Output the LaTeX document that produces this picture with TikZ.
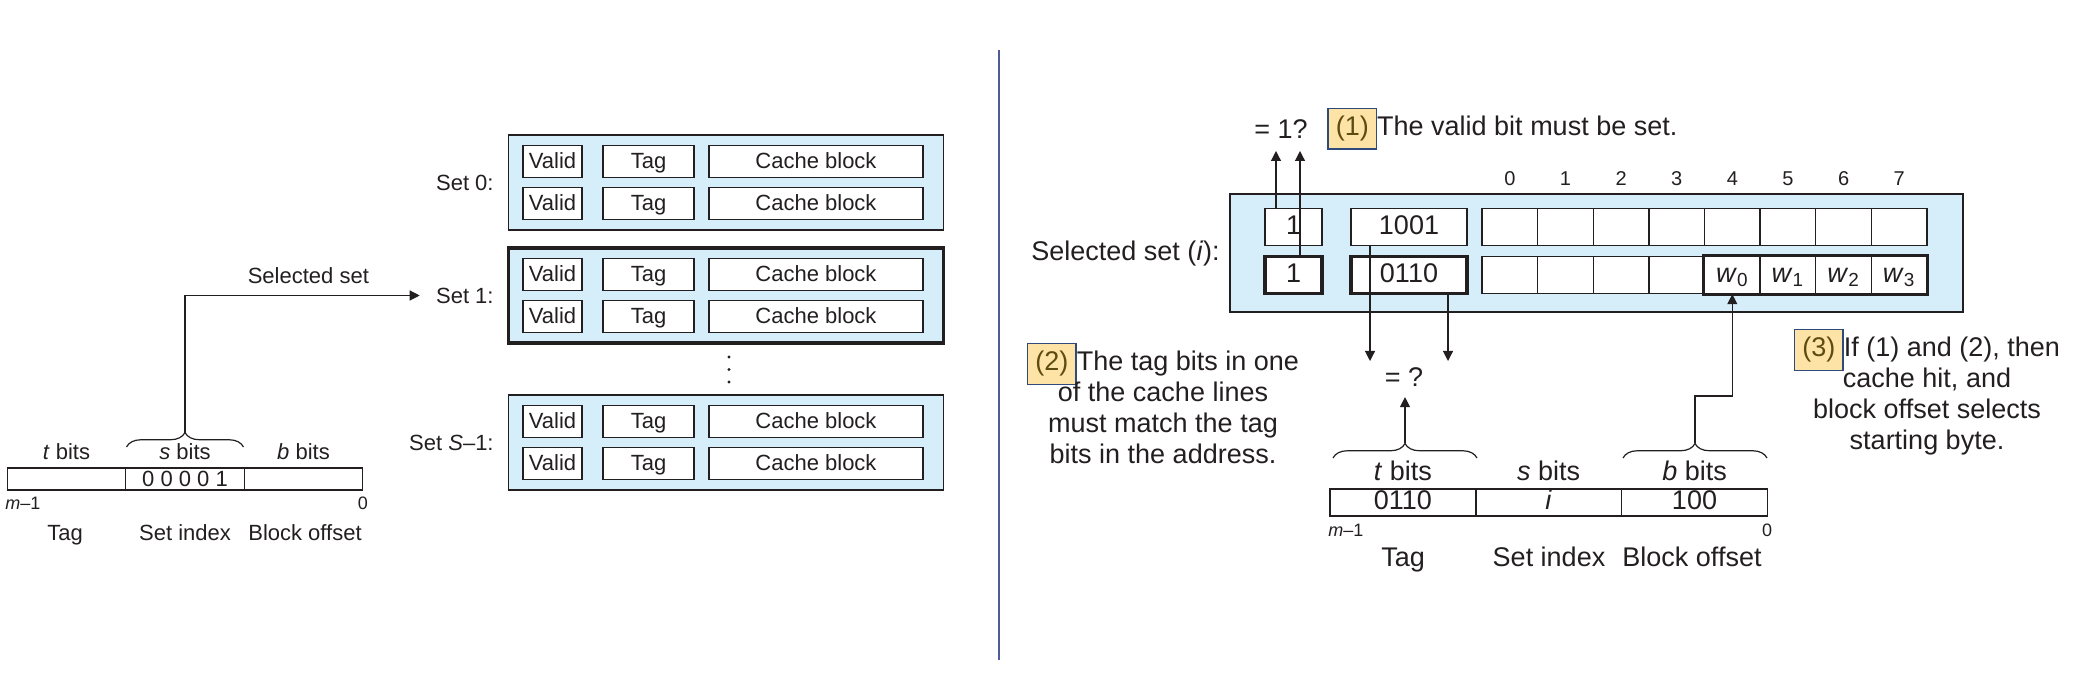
\documentclass[tikz,border=0pt]{standalone}
\usepackage{fontspec}
\setmainfont{Liberation Sans}
\usepackage{xcolor}
\usepackage{tikz}
\usetikzlibrary{arrows.meta,decorations.pathreplacing,positioning}
\definecolor{ccLine}{HTML}{231F20}
\definecolor{ccBlue}{HTML}{D6EEF9}
\definecolor{ccYellow}{HTML}{FDE3A6}
\definecolor{ccNavy}{HTML}{2F4B7C}
\definecolor{ccOlive}{HTML}{5E4B12}
\definecolor{ccRule}{HTML}{4E5D9A}
\newcommand{\cctext}{\fontsize{11}{13}\selectfont}
\newcommand{\ccbig}{\fontsize{13.5}{15.5}\selectfont}
\newcommand{\ccmid}{\fontsize{10}{12}\selectfont}
\newcommand{\ccsmall}{\fontsize{9}{11}\selectfont}
\newcommand{\ccnum}[1]{{\setlength{\fboxsep}{3.5pt}\setlength{\fboxrule}{0.7pt}%
  \smash{\raisebox{1.5pt}{\fcolorbox{ccNavy}{ccYellow}{\raisebox{-1.5pt}{\textcolor{ccOlive}{#1}}}}}}}
\tikzset{
  ccset/.style={draw=ccLine,fill=ccBlue,line width=0.75pt,inner sep=0pt,
                minimum width=217.5pt,minimum height=47.5pt},
  ccbox/.style={draw=ccLine,fill=white,line width=0.7pt,inner sep=0pt,
                minimum height=16pt,font=\cctext,text=ccLine,
                text height=0.72em,text depth=0pt},
  ccbigbox/.style={draw=ccLine,fill=white,line width=0.7pt,inner sep=0pt,
                   minimum height=18.5pt,font=\ccbig,text=ccLine,
                   text height=0.72em,text depth=0pt},
  ccthick/.style={line width=1.6pt},
  ccfield/.style={draw=ccLine,line width=0.7pt,inner sep=0pt,text=ccLine,
                  text height=0.72em,text depth=0pt},
  cclabel/.style={font=\cctext,inner sep=2pt,text=ccLine},
  ccbiglabel/.style={font=\ccbig,inner sep=2pt,text=ccLine,align=center},
  cctiny/.style={font=\ccsmall,inner sep=0pt,text=ccLine},
  cccol/.style={font=\ccmid,inner sep=0pt,text=ccLine},
  ccarrow/.style={-{Triangle[length=5pt,width=5pt]},line width=0.6pt,draw=ccLine},
  ccbrace/.style={decorate,decoration={brace,amplitude=7.25pt},
                  line width=0.6pt,draw=ccLine}
}

\begin{document}
\begin{tikzpicture}[x=0.5pt,y=-0.5pt]
    \useasboundingbox (0,0) rectangle (2083,678);
    \draw[ccRule,line width=0.8pt] (999,50) -- (999,660);

    \begin{scope}
      \foreach \s/\y/\lw/\lab in {0/182.5/0.75pt/{Set 0:},1/295.5/1.6pt/{Set 1:},
                                  2/442.5/0.75pt/{Set \textit{S}--1:}} {
        \node[ccset,line width=\lw] (set\s) at (726,\y) {};
        \node[cclabel,anchor=east] (lab\s) at (498,\y) {\lab};
        \node[ccbox,minimum width=29.5pt] (va\s) at (552.5,\y-21) {Valid};
        \node[ccbox,minimum width=45.5pt] (ta\s) at (648.5,\y-21) {Tag};
        \node[ccbox,minimum width=107pt] (ba\s) at (816,\y-21) {Cache block};
        \node[ccbox,minimum width=29.5pt] (vb\s) at (552.5,\y+21) {Valid};
        \node[ccbox,minimum width=45.5pt] (tb\s) at (648.5,\y+21) {Tag};
        \node[ccbox,minimum width=107pt] (bb\s) at (816,\y+21) {Cache block};
      }
      \foreach \d in {357,369.5,382}
        \fill[ccLine] (729,\d) circle (0.8pt);

      \node[ccfield,minimum width=59.25pt,minimum height=11pt] (tf) at (66.5,479) {};
      \node[ccfield,minimum width=59.25pt,minimum height=11pt,font=\cctext]
        (sf) at (185,479) {0 0 0 0 1};
      \node[ccfield,minimum width=59.25pt,minimum height=11pt] (bf) at (303.5,479) {};
      \node[cclabel,above=1.5pt of tf] (tbits) {\textit{t} bits};
      \node[cclabel,above=1.5pt of sf] (sbits) {\textit{s} bits};
      \node[cclabel,above=1.5pt of bf] (bbits) {\textit{b} bits};
      \draw[ccbrace] (126.5,447) -- (243.5,447);
      \coordinate (stip) at (185,433);
      \draw[ccarrow,shorten >=6pt] (stip) |- node[cclabel,pos=0.75,above=3.5pt]
        (selname) {Selected set} (lab1);
      \node[cctiny,anchor=base west] (msb) at (5,509.5) {\textit{m}--1};
      \node[cctiny,anchor=base] (lsb) at (363,509.5) {0};
      \node[cclabel,anchor=base] (tname) at (65,540) {Tag};
      \node[cclabel,anchor=base] (sname) at (185,540) {Set index};
      \node[cclabel,anchor=base] (bname) at (305,540) {Block offset};
    \end{scope}

    \begin{scope}[xshift=500pt]
      \node[ccset,minimum width=366.5pt,minimum height=59pt] (sel) at (596.5,253) {};
      \node[ccbiglabel,anchor=base east] (sellab) at (224,260.7)
        {Selected set (\textit{i}):};
      \node[ccbigbox,minimum width=28.5pt] (va) at (293.5,227) {1};
      \node[ccbigbox,minimum width=58pt] (ta) at (409,227) {1001};
      \node[ccbigbox,ccthick,minimum width=28.5pt] (vb) at (293.5,275) {1};
      \node[ccbigbox,ccthick,minimum width=58pt] (tb) at (409,275) {0110};
      \foreach \k in {0,...,7} {
        \node[ccbigbox,minimum width=27.8125pt] (ca\k) at (509.8+55.625*\k,227) {};
        \node[cccol,anchor=base] (col\k) at (509.8+55.625*\k,186) {\k};
      }
      \foreach \k in {0,...,3}
        \node[ccbigbox,minimum width=27.8125pt] (cb\k) at (509.8+55.625*\k,275) {};
      \foreach \k/\w in {4/0,5/1,6/2,7/3}
        \node[ccbigbox,minimum width=27.8125pt] (cb\k) at (509.8+55.625*\k,275)
          {\textit{w}\textsubscript{\w}};
      \draw[ccLine,ccthick] (cb4.north west) rectangle (cb7.south east);

      \node[ccbiglabel,anchor=base] (eqone) at (281,138.7) {= 1?};
      \node[ccbiglabel,anchor=base west,inner sep=0pt] (note1) at (327,135.7)
        {\ccnum{(1)}The valid bit must be set.};
      \coordinate (upa) at (276,151);
      \coordinate (upb) at (300,151);
      \draw[ccarrow] (upa |- va.north) -- (upa);
      \draw[ccarrow] (upb |- vb.north) -- (upb);

      \coordinate (dna) at (370,361);
      \coordinate (dnb) at (448,361);
      \draw[ccarrow] (dna |- ta.south) -- (dna);
      \draw[ccarrow] (dnb |- tb.south) -- (dnb);
      \node[ccbiglabel,anchor=base] (eqq) at (404,386.7) {= ?};

      \node[ccfield,minimum width=72.9pt,minimum height=13.5pt,font=\ccbig]
        (tf2) at (402.9,502.5) {0110};
      \node[ccfield,minimum width=72.9pt,minimum height=13.5pt,font=\ccbig]
        (sf2) at (548.7,502.5) {\textit{i}};
      \node[ccfield,minimum width=72.9pt,minimum height=13.5pt,font=\ccbig]
        (bf2) at (694.5,502.5) {100};
      \node[ccbiglabel,above=1.5pt of tf2] (tbits2) {\textit{t} bits};
      \node[ccbiglabel,above=1.5pt of sf2] (sbits2) {\textit{s} bits};
      \node[ccbiglabel,above=1.5pt of bf2] (bbits2) {\textit{b} bits};
      \draw[ccbrace] (333,458) -- (477,458);
      \draw[ccbrace] (623,458) -- (767,458);
      \coordinate (ttip) at (405,443);
      \coordinate (btip) at (695,443);
      \coordinate (bjog) at (695,396);
      \draw[ccarrow,shorten >=3pt] (ttip) -- (ttip |- eqq.south);
      \draw[ccarrow] (btip) -- (bjog) -| (cb4.south);
      \node[cctiny,anchor=base west] (msb2) at (328,536.4) {\textit{m}--1};
      \node[cctiny,anchor=base] (lsb2) at (767,536.4) {0};
      \node[ccbiglabel,anchor=base] (tname2) at (403,566.7) {Tag};
      \node[ccbiglabel,anchor=base] (sname2) at (549,566.7) {Set index};
      \node[ccbiglabel,anchor=base] (bname2) at (692,566.7) {Block offset};

      \node[ccbiglabel,anchor=base] (note2) at (163,464)
        {\ccnum{(2)}The tag bits in one\\of the cache lines\\must match the tag\\bits in the address.};
      \node[ccbiglabel,anchor=base] (note3) at (927,450)
        {\ccnum{(3)}If (1) and (2), then\\cache hit, and\\block offset selects\\starting byte.};
    \end{scope}
  \end{tikzpicture}
\end{document}
